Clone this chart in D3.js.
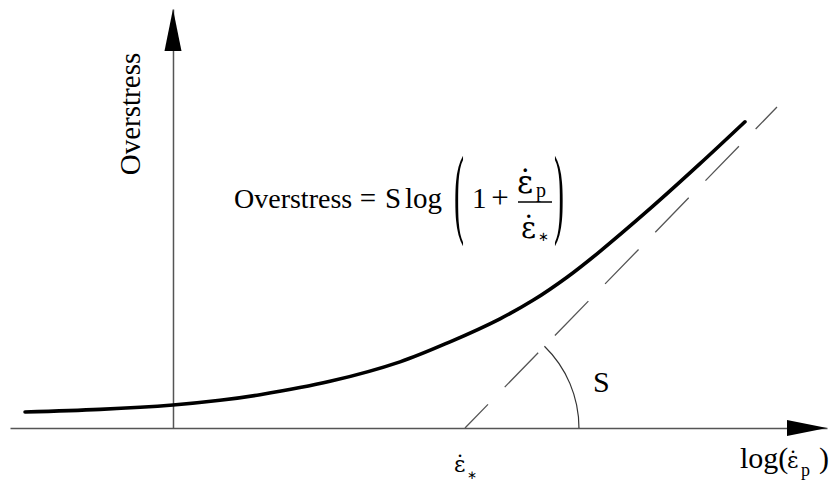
<!DOCTYPE html>
<html>
<head>
<meta charset="utf-8">
<script src="https://cdn.jsdelivr.net/npm/d3@7"></script>
<style>
  body { margin: 0; background: #fff; }
  svg { display: block; }
  text { font-family: "Liberation Serif", "Times New Roman", serif; fill: #000; }
  .eps { font-family: "DejaVu Serif", serif; }
</style>
</head>
<body>
<svg id="chart"></svg>
<script>
// overstress curve (arbitrary units)
const logRate    = [1.84, 11.02, 19.95, 25.70, 30.60, 39.17, 47.74, 53.86, 59.98, 64.01, 68.18, 71.85, 78.34, 84.46, 89.96];
const overstress = [1.96, 2.28, 2.82, 3.39, 4.08, 5.71, 8.10, 10.55, 13.37, 15.63, 18.46, 21.33, 26.85, 32.36, 37.49];

// asymptote with slope S, starting at log(eps_*)
const asymRate = [55.69, 93.88];
const asymStress = [0, 39.30];
const epsStar = 55.69;
const yAxisAt = 19.95;
const arcRadius = 13.95;

const width = 832, height = 485;
const svg = d3.select("#chart").attr("width", width).attr("height", height);

const x = d3.scaleLinear().domain([0, 100]).range([10, 827]);
const y = d3.scaleLinear().domain([0, 51.3]).range([428, 9]);

// axes without ticks
svg.append("g")
    .attr("transform", `translate(0,${y(0)})`)
    .call(d3.axisBottom(x).tickValues([]).tickSizeOuter(0))
    .select(".domain").attr("stroke", "#555").attr("stroke-width", 1.5);

svg.append("g")
    .attr("transform", `translate(${x(yAxisAt)},0)`)
    .call(d3.axisLeft(y).tickValues([]).tickSizeOuter(0))
    .select(".domain").attr("stroke", "#555").attr("stroke-width", 1.5);

// arrow heads
const xr = x.range()[1], yt = y.range()[1];
svg.append("path")
    .attr("d", `M${xr},${y(0)} L${xr - 40},${y(0) - 8} L${xr - 40},${y(0) + 8} Z`)
    .attr("fill", "#000");
svg.append("path")
    .attr("d", `M${x(yAxisAt)},${yt} L${x(yAxisAt) - 8.5},${yt + 42} L${x(yAxisAt) + 8.5},${yt + 42} Z`)
    .attr("fill", "#000");

// dashed asymptote
const asym = asymRate.map((r, i) => [r, asymStress[i]]);
svg.append("path")
    .datum(asym)
    .attr("d", d3.line().x(d => x(d[0])).y(d => y(d[1])))
    .attr("fill", "none")
    .attr("stroke", "#555")
    .attr("stroke-width", 1.3)
    .attr("stroke-dasharray", "48,24")
    .attr("stroke-dashoffset", 15);

// angle arc
const cx = x(epsStar), cy = y(0);
const r = x(epsStar + arcRadius) - cx;
const theta = Math.atan2(y(asym[0][1]) - y(asym[1][1]), x(asym[1][0]) - x(asym[0][0]));
const p = d3.path();
p.moveTo(cx + r, cy);
p.arc(cx, cy, r, 0, -theta, true);
svg.append("path")
    .attr("d", p.toString())
    .attr("fill", "none")
    .attr("stroke", "#333")
    .attr("stroke-width", 1.2);

// main curve
const pts = logRate.map((r, i) => [r, overstress[i]]);
svg.append("path")
    .datum(pts)
    .attr("d", d3.line().x(d => x(d[0])).y(d => y(d[1])).curve(d3.curveCatmullRom))
    .attr("fill", "none")
    .attr("stroke", "#000")
    .attr("stroke-width", 3.6)
    .attr("stroke-linecap", "round");

// text helpers
function txt(s, px, py, size, anchor) {
    return svg.append("text").attr("x", px).attr("y", py)
        .attr("font-size", size).attr("text-anchor", anchor || "start").text(s);
}
// dotted epsilon (combining dot) with a subscript
function epsDot(px, base, size, sub, subX, subY, subSize) {
    const t = svg.append("text").attr("x", px).attr("y", base).attr("font-size", size);
    t.append("tspan").attr("class", "eps").text("\u03B5\u0307");
    t.append("tspan").attr("x", subX).attr("y", subY)
        .attr("font-size", subSize).text(sub);
    return t;
}

// vertical axis label
svg.append("text")
    .attr("transform", "translate(140,114) rotate(-90)")
    .attr("text-anchor", "middle")
    .attr("font-size", 29)
    .text("Overstress");

// slope label
txt("S", 593, 392, 30);

// eps_* under the axis
epsDot(454, 472, 22, "\u2217", 467, 479, 12);

// log(eps_p)
txt("log(", 740, 468, 30);
epsDot(787, 468, 22, "p", 801, 476, 18);
txt(")", 819, 468, 30);

// formula
txt("Overstress", 234, 208, 28);
txt("=", 368, 208, 29, "middle");
txt("S", 385, 208, 29);
txt("log", 405, 208, 29);
svg.append("text").attr("transform", "translate(454,225) scale(1,3.3)")
    .attr("font-size", 30).text("(");
txt("1", 472, 208, 29);
txt("+", 500, 208, 31, "middle");
svg.append("line").attr("x1", 518).attr("x2", 552).attr("y1", 202).attr("y2", 202)
    .attr("stroke", "#000").attr("stroke-width", 1.4);
epsDot(517, 193, 31, "p", 536, 197, 20);
epsDot(521, 238, 29, "\u2217", 538, 241, 13);
svg.append("text").attr("transform", "translate(554,225) scale(1,3.3)")
    .attr("font-size", 30).text(")");
</script>
</body>
</html>
